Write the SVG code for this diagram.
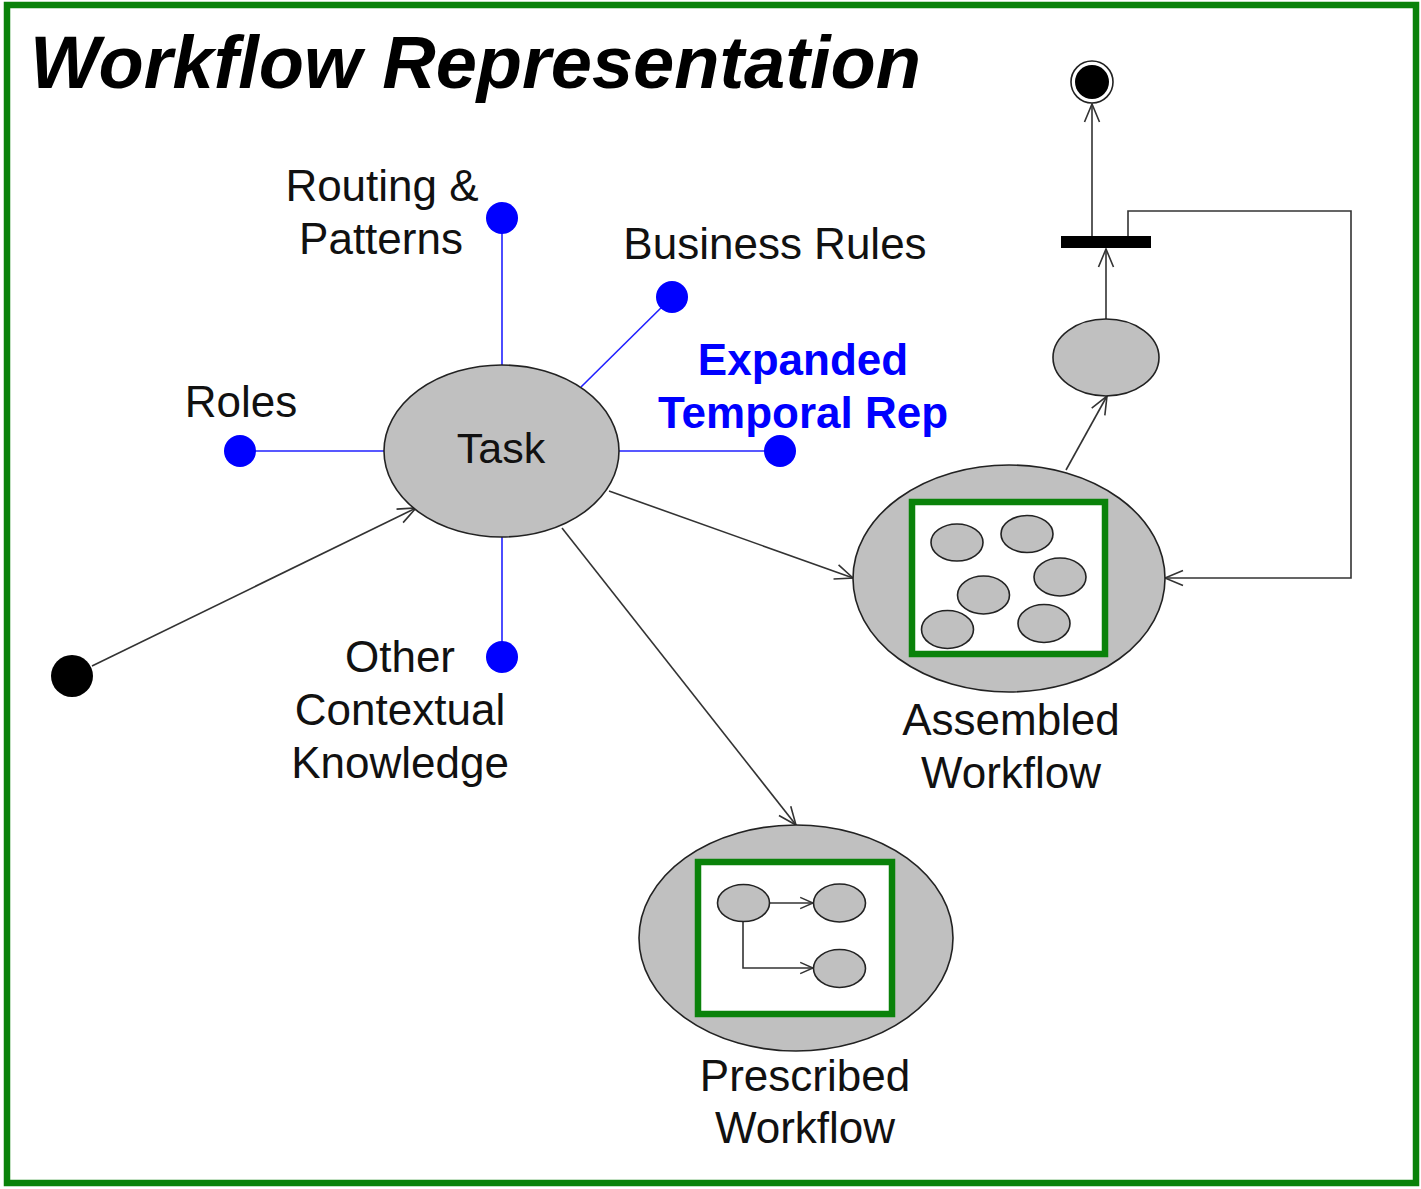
<svg xmlns="http://www.w3.org/2000/svg" width="1421" height="1189" viewBox="0 0 1421 1189">
  <style>
    .lbl { font-family: "Liberation Sans", Arial, sans-serif; font-size: 44px; fill: #111; text-anchor: middle; }
    .blue-lbl { font-family: "Liberation Sans", Arial, sans-serif; font-size: 44px; font-weight: bold; fill: #0000ff; text-anchor: middle; }
    .title { font-family: "Liberation Sans", Arial, sans-serif; font-size: 74px; font-weight: bold; font-style: italic; fill: #000; }
    .node { fill: #c0c0c0; stroke: #222; stroke-width: 1.6; }
    .spoke { stroke: #2020ff; stroke-width: 1.6; fill: none; }
    .dot { fill: #0000ff; }
    .edge { stroke: #333; stroke-width: 1.6; fill: none; }
    .frame { fill: #fff; stroke: #0a820a; stroke-width: 6.5; }
  </style>
  <defs>
    <marker id="open" viewBox="-20 -10 22 20" refX="0" refY="0" markerWidth="22" markerHeight="20" markerUnits="userSpaceOnUse" orient="auto">
      <path d="M-18,-7.5 L0,0 L-18,7.5" fill="none" stroke="#333" stroke-width="1.6"/>
    </marker>
    <marker id="open-sm" viewBox="-18 -10 20 20" refX="0" refY="0" markerWidth="16" markerHeight="16" markerUnits="userSpaceOnUse" orient="auto">
      <path d="M-16,-7 L0,0 L-16,7" fill="none" stroke="#333" stroke-width="1.8"/>
    </marker>
  </defs>

  <rect width="1421" height="1189" fill="#fff"/>
  <rect class="frame" x="7" y="5" width="1409" height="1178"/>

  <text class="title" x="30" y="88">Workflow Representation</text>

  <!-- connectors -->
  <g id="connectors">
    <!-- context spokes around the task -->
    <line class="spoke" x1="502" y1="366" x2="502" y2="218"/>
    <line class="spoke" x1="581" y1="387" x2="672" y2="297"/>
    <line class="spoke" x1="384" y1="451" x2="240" y2="451"/>
    <line class="spoke" x1="619" y1="451" x2="780" y2="451"/>
    <line class="spoke" x1="502" y1="536" x2="502" y2="657"/>
    <!-- control flow -->
    <line class="edge" x1="92" y1="666" x2="416" y2="508" marker-end="url(#open)"/>
    <line class="edge" x1="609" y1="491" x2="853" y2="578" marker-end="url(#open)"/>
    <line class="edge" x1="562" y1="528" x2="796" y2="825" marker-end="url(#open)"/>
    <line class="edge" x1="1066" y1="470" x2="1107" y2="396" marker-end="url(#open)"/>
    <line class="edge" x1="1106" y1="319" x2="1106" y2="249" marker-end="url(#open)"/>
    <line class="edge" x1="1092" y1="236" x2="1092" y2="104" marker-end="url(#open)"/>
    <polyline class="edge" points="1128,236 1128,211 1351,211 1351,578 1165,578" marker-end="url(#open)"/>
  </g>

  <!-- context items -->
  <g id="routing">
    <circle class="dot" cx="502" cy="218" r="16"/>
    <text class="lbl" x="382" y="201">Routing &amp;</text>
    <text class="lbl" x="381" y="254">Patterns</text>
  </g>
  <g id="business-rules">
    <circle class="dot" cx="672" cy="297" r="16"/>
    <text class="lbl" x="775" y="259">Business Rules</text>
  </g>
  <g id="roles">
    <circle class="dot" cx="240" cy="451" r="16"/>
    <text class="lbl" x="241" y="417">Roles</text>
  </g>
  <g id="temporal">
    <circle class="dot" cx="780" cy="451" r="16"/>
    <text class="blue-lbl" x="803" y="375">Expanded</text>
    <text class="blue-lbl" x="803" y="428">Temporal Rep</text>
  </g>
  <g id="other-knowledge">
    <circle class="dot" cx="502" cy="657" r="16"/>
    <text class="lbl" x="400" y="672">Other</text>
    <text class="lbl" x="400" y="725">Contextual</text>
    <text class="lbl" x="400" y="778">Knowledge</text>
  </g>

  <!-- task -->
  <g id="task">
    <ellipse class="node" cx="501.5" cy="451" rx="117.5" ry="86"/>
    <text class="lbl" x="501" y="463" style="font-size:43px">Task</text>
  </g>

  <!-- start / end -->
  <g id="start">
    <circle cx="72" cy="676" r="21" fill="#000"/>
  </g>
  <g id="end">
    <circle cx="1092" cy="82" r="21" fill="#fff" stroke="#222" stroke-width="1.6"/>
    <circle cx="1092" cy="82" r="17" fill="#000"/>
  </g>
  <g id="join-bar">
    <rect x="1061" y="236" width="90" height="12" fill="#000"/>
  </g>
  <g id="next-task">
    <ellipse class="node" cx="1106" cy="357.5" rx="53" ry="38.5"/>
  </g>

  <!-- assembled workflow -->
  <g id="assembled">
    <ellipse class="node" cx="1009" cy="578.5" rx="156" ry="113.5"/>
    <rect x="912" y="502" width="193" height="152" fill="#fff" stroke="#0a820a" stroke-width="6.5"/>
    <ellipse class="node" cx="957" cy="542.5" rx="26" ry="18.5"/>
    <ellipse class="node" cx="1027" cy="534" rx="26" ry="18.5"/>
    <ellipse class="node" cx="1060" cy="577" rx="26" ry="19"/>
    <ellipse class="node" cx="983.5" cy="595" rx="26" ry="19"/>
    <ellipse class="node" cx="947.5" cy="629.5" rx="26" ry="19"/>
    <ellipse class="node" cx="1044" cy="623.5" rx="26" ry="19"/>
    <text class="lbl" x="1011" y="735">Assembled</text>
    <text class="lbl" x="1011" y="788">Workflow</text>
  </g>

  <!-- prescribed workflow -->
  <g id="prescribed">
    <ellipse class="node" cx="796" cy="938" rx="157" ry="113"/>
    <rect x="698" y="862" width="194" height="152" fill="#fff" stroke="#0a820a" stroke-width="6.5"/>
    <line class="edge" x1="769" y1="903" x2="813" y2="903" marker-end="url(#open-sm)"/>
    <polyline class="edge" points="743,921 743,968 813,968" marker-end="url(#open-sm)"/>
    <ellipse class="node" cx="743.5" cy="903" rx="26" ry="18.5"/>
    <ellipse class="node" cx="839.5" cy="903" rx="26" ry="19"/>
    <ellipse class="node" cx="839.5" cy="968.5" rx="26" ry="19"/>
    <text class="lbl" x="805" y="1091">Prescribed</text>
    <text class="lbl" x="805" y="1143">Workflow</text>
  </g>
</svg>
